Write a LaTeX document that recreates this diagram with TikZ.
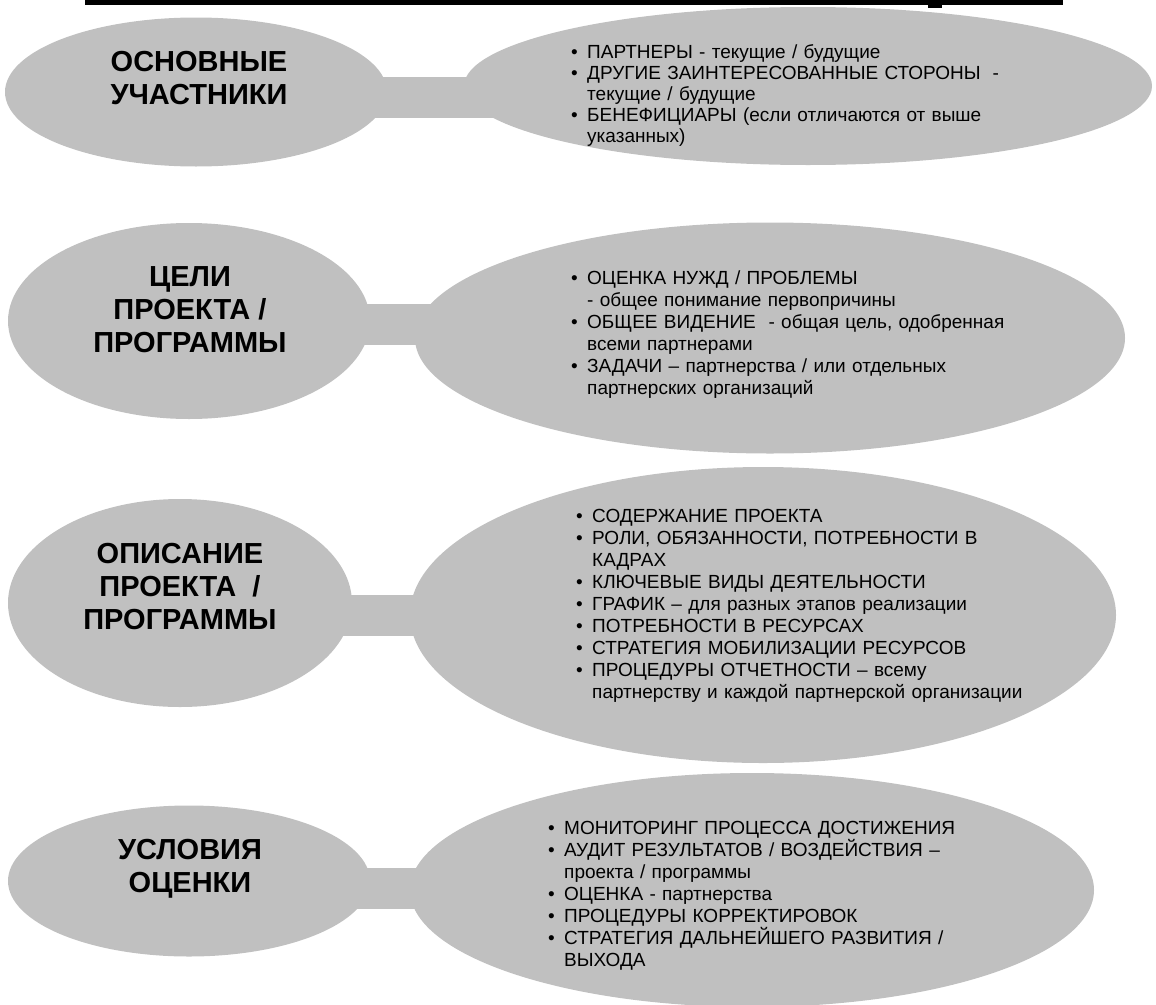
\documentclass[tikz,border=0pt]{standalone}
\usepackage{fontspec}
\setmainfont{Liberation Sans}
\usetikzlibrary{shapes.geometric}
\definecolor{shade}{HTML}{C0C0C0}
\newcommand\itm[1]{\par\noindent\hangindent=16pt\hangafter=1\makebox[16pt][l]{\textbullet}#1\par}

\begin{document}
\begin{tikzpicture}[
  x=1pt,y=-1pt,
  blob/.style={ellipse,fill=shade,inner sep=0pt,outer sep=0pt},
  head/.style={font=\fontsize{29}{33}\selectfont\bfseries,align=center},
  list/.style={font=\fontsize{19}{22}\selectfont,anchor=north west,inner sep=0pt,text width=560pt,align=left},
  bar/.style={draw=shade,line width=41pt,shorten <=-30pt,shorten >=-30pt}
]
\useasboundingbox (0,0) rectangle (1156,1004);

% title rule
\fill (85,0) rectangle (1063,5);
\fill (928,5) rectangle (942,8);

% left: headings
\node[blob,minimum width=382pt,minimum height=149pt] (l1) at (196,92) {};
\node[blob,minimum width=362pt,minimum height=196pt] (l2) at (189,321) {};
\node[blob,minimum width=344pt,minimum height=208pt] (l3) at (180,603) {};
\node[blob,minimum width=362pt,minimum height=151pt] (l4) at (189,881) {};

% right: contents
\node[blob,minimum width=688pt,minimum height=158pt] (r1) at (808,86) {};
\node[blob,minimum width=710pt,minimum height=231pt] (r2) at (770,338) {};
\node[blob,minimum width=706pt,minimum height=296pt] (r3) at (763,615) {};
\node[blob,minimum width=684pt,minimum height=234pt] (r4) at (752,890) {};

\draw[bar] ([yshift=-5pt]l1.east) -- ([yshift=-5pt]l1.east -| r1.west);
\draw[bar] ([yshift=-3.5pt]l2.east) -- ([yshift=-3.5pt]l2.east -| r2.west);
\draw[bar] ([yshift=-12pt]l3.east) -- ([yshift=-12pt]l3.east -| r3.west);
\draw[bar] ([yshift=-7pt]l4.east) -- ([yshift=-7pt]l4.east -| r4.west);

\node[head] (h1) at (199,78) {ОСНОВНЫЕ\\УЧАСТНИКИ};
\node[head] (h2) at (190,310) {ЦЕЛИ\\ПРОЕКТА /\\ПРОГРАММЫ};
\node[head] (h3) at (180,587) {ОПИСАНИЕ\\ПРОЕКТА~~/\\ПРОГРАММЫ};
\node[head] (h4) at (190,869) {УСЛОВИЯ\\ОЦЕНКИ};

\node[list,font=\fontsize{19}{21}\selectfont] (d1) at (571,37) {%
  \itm{ПАРТНЕРЫ - текущие / будущие}
  \itm{ДРУГИЕ ЗАИНТЕРЕСОВАННЫЕ СТОРОНЫ\hspace{12pt}-\newline текущие / будущие}
  \itm{БЕНЕФИЦИАРЫ (если отличаются от выше\newline указанных)}};
\node[list] (d2) at (571,262) {%
  \itm{ОЦЕНКА НУЖД / ПРОБЛЕМЫ\newline - общее понимание первопричины}
  \itm{ОБЩЕЕ ВИДЕНИЕ\ \ - общая цель, одобренная\newline всеми партнерами}
  \itm{ЗАДАЧИ – партнерства / или отдельных\newline партнерских организаций}};
\node[list] (d3) at (576,500) {%
  \itm{СОДЕРЖАНИЕ ПРОЕКТА}
  \itm{РОЛИ, ОБЯЗАННОСТИ, ПОТРЕБНОСТИ В\newline КАДРАХ}
  \itm{КЛЮЧЕВЫЕ ВИДЫ ДЕЯТЕЛЬНОСТИ}
  \itm{ГРАФИК – для разных этапов реализации}
  \itm{ПОТРЕБНОСТИ В РЕСУРСАХ}
  \itm{СТРАТЕГИЯ МОБИЛИЗАЦИИ РЕСУРСОВ}
  \itm{ПРОЦЕДУРЫ ОТЧЕТНОСТИ – всему\newline партнерству и каждой партнерской организации}};
\node[list] (d4) at (548,812) {%
  \itm{МОНИТОРИНГ ПРОЦЕССА ДОСТИЖЕНИЯ}
  \itm{АУДИТ РЕЗУЛЬТАТОВ / ВОЗДЕЙСТВИЯ –\newline проекта / программы}
  \itm{ОЦЕНКА - партнерства}
  \itm{ПРОЦЕДУРЫ КОРРЕКТИРОВОК}
  \itm{СТРАТЕГИЯ ДАЛЬНЕЙШЕГО РАЗВИТИЯ /\newline ВЫХОДА}};
\end{tikzpicture}
\end{document}
